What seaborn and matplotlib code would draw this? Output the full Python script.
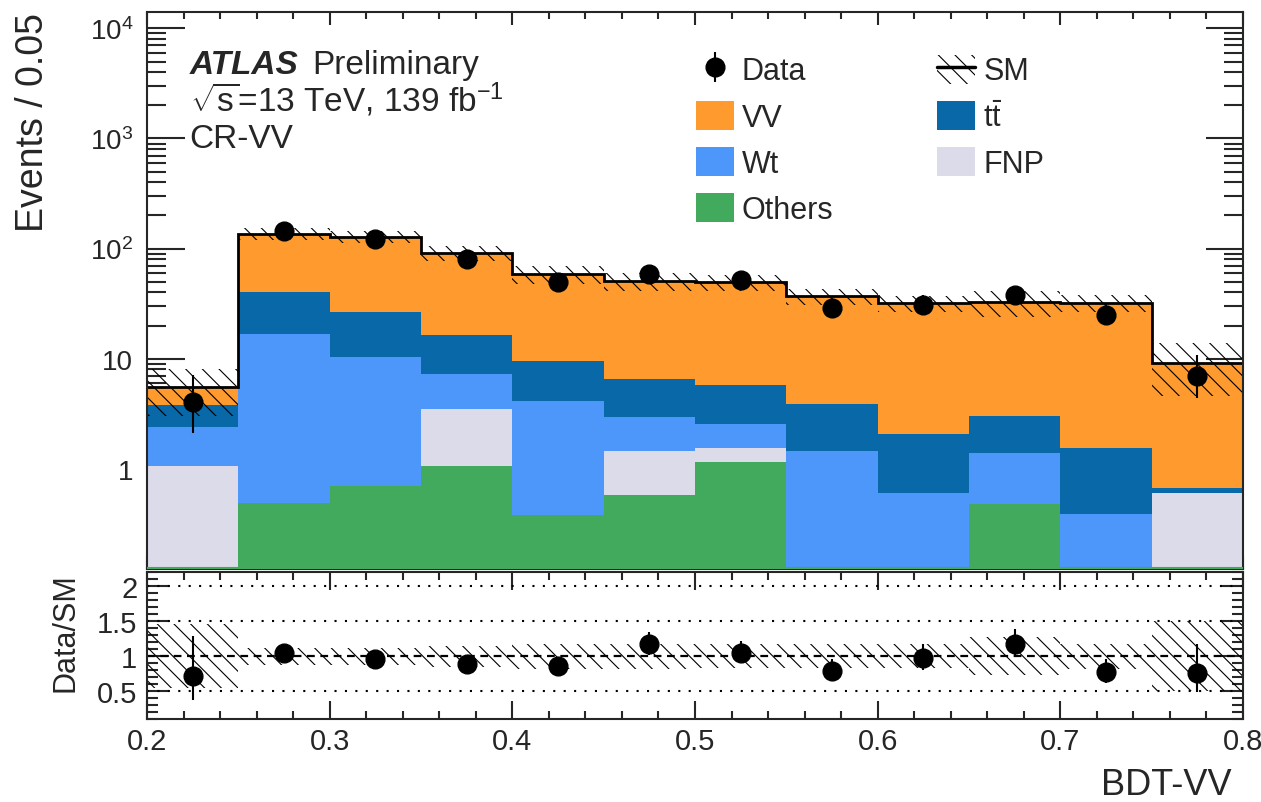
import numpy as np
import pandas as pd
import matplotlib
matplotlib.use("Agg")
import matplotlib.pyplot as plt
import seaborn as sns
from matplotlib.patches import Patch
from matplotlib.lines import Line2D
from matplotlib.ticker import MultipleLocator, LogLocator, NullFormatter, FuncFormatter, FixedLocator

# ---------------- data ----------------
bin_edges = [0.20, 0.25, 0.30, 0.35, 0.40, 0.45, 0.50, 0.55, 0.60, 0.65, 0.70, 0.75, 0.80]
processes = ["VV", "ttbar", "Wt", "FNP", "Others"]
vv     = [1.78, 97.0, 101.6, 75.0, 49.1, 43.8, 43.9, 32.9, 29.8, 29.4, 30.8, 8.52]
ttbar  = [1.39, 23.4, 16.0, 9.1, 5.48, 3.65, 3.17, 2.46, 1.47, 1.62, 1.17, 0.054]
wt     = [1.31, 16.1, 9.7, 3.84, 3.71, 1.50, 1.02, 1.44, 0.60, 0.91, 0.386, 0.0]
fnp    = [1.065, 0.0, 0.0, 2.40, 0.0, 0.87, 0.40, 0.0, 0.0, 0.0, 0.0, 0.608]
others = [0.0, 0.493, 0.70, 1.065, 0.378, 0.58, 1.14, 0.0, 0.0, 0.476, 0.0, 0.0]
data   = [4, 144, 122, 81, 50, 59, 52, 29, 31, 38, 25, 7]
syst_rel = [0.46, 0.12, 0.12, 0.15, 0.18, 0.18, 0.17, 0.17, 0.17, 0.27, 0.18, 0.50]

colors = {"VV": "#FE9A2E", "ttbar": "#0868A8", "Wt": "#4D97FA",
          "FNP": "#DBDBEA", "Others": "#41AA5D"}

edges = np.array(bin_edges)
centers = 0.5 * (edges[:-1] + edges[1:])
comp = {"VV": vv, "ttbar": ttbar, "Wt": wt, "FNP": fnp, "Others": others}
total = np.sum([np.array(v) for v in comp.values()], axis=0)
n = np.array(data, dtype=float)
# asymmetric Poisson intervals (Wilson-Hilferty)
lo_cnt = n * (1 - 1 / (9 * n) - 1 / (3 * np.sqrt(n))) ** 3
hi_cnt = (n + 1) * (1 - 1 / (9 * (n + 1)) + 1 / (3 * np.sqrt(n + 1))) ** 3
err_lo = n - lo_cnt
err_hi = hi_cnt - n
srel = np.array(syst_rel)

df = pd.DataFrame({
    "x": np.tile(centers, len(processes)),
    "w": np.concatenate([comp[p] for p in processes]),
    "proc": np.repeat(processes, len(centers)),
})

# ---------------- style ----------------
sns.set_style("ticks")
plt.rcParams["font.family"] = ["Liberation Sans", "DejaVu Sans"]
plt.rcParams["mathtext.fontset"] = "custom"
plt.rcParams["mathtext.rm"] = "Liberation Sans"
plt.rcParams["mathtext.it"] = "Liberation Sans:italic"
plt.rcParams["mathtext.bf"] = "Liberation Sans:bold"
plt.rcParams["hatch.color"] = "black"
plt.rcParams["hatch.linewidth"] = 0.8
plt.rcParams["axes.linewidth"] = 1.5

fig = plt.figure(figsize=(12.61, 8.03), dpi=100)
ax = fig.add_axes([0.11657, 0.29016, 0.86915, 0.69328])
axr = fig.add_axes([0.11657, 0.10336, 0.86915, 0.18269])

HATCH = "\\\\"

# ---------------- main panel ----------------
ax.set_yscale("log")
sns.histplot(data=df, x="x", weights="w", hue="proc", hue_order=processes,
             multiple="stack", bins=list(bin_edges), element="step", fill=True,
             linewidth=0, alpha=1, palette=colors, legend=False, ax=ax)
ax.stairs(total, edges, baseline=None, color="black", linewidth=2)
xs = np.repeat(edges, 2)[1:-1]
ax.fill_between(xs, np.repeat(total * (1 - srel), 2), np.repeat(total * (1 + srel), 2),
                facecolor="none", edgecolor="black", linewidth=0, hatch=HATCH)
eb = ax.errorbar(centers, n, yerr=[err_lo, err_hi], fmt="o", color="black",
                 markersize=13.5, elinewidth=1.5, capsize=0, zorder=5)
ax.axhline(0.125, color=colors["Others"], linewidth=1.5, zorder=4)

ax.set_xlim(0.2, 0.8)
ax.set_ylim(0.1228, 1.4e4)
ax.set_xlabel("")
ax.set_ylabel("Events / 0.05", fontsize=27, loc="top")
ax.yaxis.set_label_coords(-0.088, 1.0)
ax.xaxis.set_major_locator(MultipleLocator(0.1))
ax.xaxis.set_minor_locator(MultipleLocator(0.02))
ax.yaxis.set_major_locator(LogLocator(base=10, numticks=20))
ax.yaxis.set_minor_locator(LogLocator(base=10, subs=np.arange(2, 10), numticks=50))
ax.yaxis.set_minor_formatter(NullFormatter())


def logfmt(v, pos):
    e = int(round(np.log10(v)))
    if e == 0:
        return "1"
    if e == 1:
        return "10"
    return r"$10^{%d}$" % e


ax.yaxis.set_major_formatter(FuncFormatter(logfmt))
ax.tick_params(axis="both", which="both", direction="in", top=True, right=True, width=1.5)
ax.tick_params(axis="x", which="major", length=9.4, labelbottom=False)
ax.tick_params(axis="x", which="minor", length=5)
ax.tick_params(axis="y", which="major", length=27, labelsize=20, pad=10)
ax.tick_params(axis="y", which="minor", length=13.7)
for s in ax.spines.values():
    s.set_linewidth(1.5)

# texts
ax.text(0.039, 0.8905, "ATLAS", transform=ax.transAxes, fontsize=24,
        fontweight="bold", fontstyle="italic", va="baseline", ha="left")
ax.text(0.1505, 0.8905, "Preliminary", transform=ax.transAxes, fontsize=24,
        va="baseline", ha="left")
ax.text(0.039, 0.8223, r"$\sqrt{\mathrm{s}}$=13 TeV, 139 fb$^{-1}$", transform=ax.transAxes,
        fontsize=24, va="baseline", ha="left")
ax.text(0.039, 0.7576, "CR-VV", transform=ax.transAxes, fontsize=24,
        va="baseline", ha="left")

# legend
sm_handle = (Patch(facecolor="white", edgecolor="black", linewidth=0, hatch=HATCH),
             Line2D([], [], color="black", linewidth=2.5))
handles = [eb,
           Patch(facecolor=colors["VV"], edgecolor="none"),
           Patch(facecolor=colors["Wt"], edgecolor="none"),
           Patch(facecolor=colors["Others"], edgecolor="none"),
           sm_handle,
           Patch(facecolor=colors["ttbar"], edgecolor="none"),
           Patch(facecolor=colors["FNP"], edgecolor="none")]
labels = ["Data", "VV", "Wt", "Others", "SM", r"t$\bar{\mathrm{t}}$", "FNP"]
ax.legend(handles, labels, ncol=2, loc="upper left", bbox_to_anchor=(0.501, 0.924),
          frameon=False, fontsize=22, borderpad=0, borderaxespad=0,
          handlelength=1.24, handleheight=1.08, handletextpad=0.26,
          columnspacing=3.4, labelspacing=0.47)

# ---------------- ratio panel ----------------
ratio = n / total
axr.fill_between(xs, np.repeat(1 - srel, 2), np.repeat(1 + srel, 2),
                 facecolor="none", edgecolor="black", linewidth=0, hatch=HATCH)
for yv in (0.5, 1.5, 2.0):
    axr.axhline(yv, color="black", linestyle=(0, (1, 4)), linewidth=1.5)
axr.axhline(1.0, color="black", linestyle=(0, (3.5, 2.5)), linewidth=1.6)
axr.errorbar(centers, ratio, yerr=[err_lo / total, err_hi / total], fmt="o",
             color="black", markersize=13.5, elinewidth=1.5, capsize=0, zorder=5)
axr.set_xlim(0.2, 0.8)
axr.set_ylim(0.1, 2.2)
axr.set_ylabel("Data/SM", fontsize=22, loc="top")
axr.yaxis.set_label_coords(-0.061, 1.0)
axr.set_xlabel("BDT-VV", fontsize=26, loc="right")
axr.xaxis.label.set_va("baseline")
axr.xaxis.set_label_coords(0.990, -0.51)
axr.xaxis.set_major_locator(MultipleLocator(0.1))
axr.xaxis.set_minor_locator(MultipleLocator(0.02))
axr.yaxis.set_major_locator(FixedLocator([0.5, 1.0, 1.5, 2.0]))
axr.yaxis.set_minor_locator(MultipleLocator(0.1))
axr.xaxis.set_major_formatter(FuncFormatter(lambda v, p: "%g" % round(v, 2)))
axr.yaxis.set_major_formatter(FuncFormatter(lambda v, p: "%g" % v))
axr.tick_params(axis="both", which="both", direction="in", top=True, right=True, width=1.5)
axr.tick_params(axis="x", which="major", length=13, labelsize=21, pad=6)
axr.tick_params(axis="x", which="minor", length=5.8)
axr.tick_params(axis="y", which="major", length=16, labelsize=21, pad=7)
axr.tick_params(axis="y", which="minor", length=8)
for s in axr.spines.values():
    s.set_linewidth(1.5)

fig.savefig("out.png", dpi=100)
